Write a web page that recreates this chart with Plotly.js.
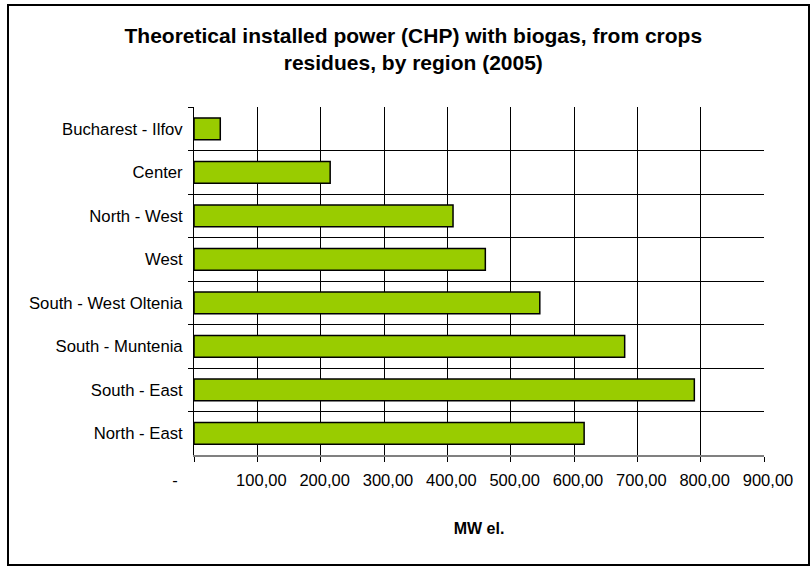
<!DOCTYPE html>
<html>
<head>
<meta charset="utf-8">
<script src="https://cdn.plot.ly/plotly-3.0.1.min.js"></script>
<style>
  html, body { margin: 0; padding: 0; background: #fff; }
  #wrap { position: relative; width: 812px; height: 567px; }
  #chart { position: absolute; left: 0; top: 0; width: 812px; height: 567px; }
  #frame { position: absolute; left: 7px; top: 4px; width: 799px; height: 558px;
           border: 2px solid #000; pointer-events: none; }
</style>
</head>
<body>
<div id="wrap">
  <div id="chart"></div>
  <div id="frame"></div>
</div>
<script>
// Regions, top to bottom as shown in the chart
const regions = [
  "Bucharest - Ilfov",
  "Center",
  "North - West",
  "West",
  "South - West Oltenia",
  "South - Muntenia",
  "South - East",
  "North - East"
];
// Installed power, MW el.
const power = [41.5, 215, 409, 460, 546, 680, 790, 616];

const xTickVals = [0, 100, 200, 300, 400, 500, 600, 700, 800, 900];
const xTickText = ["-\u00a0\u00a0\u00a0\u00a0\u00a0\u00a0\u00a0\u00a0\u00a0\u00a0",
  "100,00", "200,00", "300,00", "400,00", "500,00", "600,00", "700,00", "800,00", "900,00"];

const titleText = "Theoretical installed power (CHP) with biogas, from crops<br>residues, by region (2005)";
const xTitle = "MW el.";

const font = "'Liberation Sans', Arial, sans-serif";

const data = [{
  type: "bar",
  orientation: "h",
  y: regions,
  x: power,
  marker: { color: "#99CC00", line: { color: "#000000", width: 1.5 } },
  hoverinfo: "x+y"
}];

const layout = {
  width: 812, height: 567,
  margin: { l: 194, r: 48, t: 107, b: 112 },
  paper_bgcolor: "#ffffff",
  plot_bgcolor: "#ffffff",
  font: { family: font, size: 16, color: "#000" },
  showlegend: false,
  bargap: 0.5,
  title: {
    text: titleText,
    font: { family: font, size: 21, color: "#000", weight: "bold" },
    x: 0.509, xanchor: "center",
    y: 0.924, yanchor: "top", yref: "container"
  },
  xaxis: {
    range: [0, 900],
    tickvals: xTickVals,
    ticktext: xTickText,
    ticks: "outside", ticklen: 5, tickcolor: "#000", tickwidth: 1,
    ticklabelshift: 4,
    ticklabelstandoff: 4,
    showgrid: true, gridcolor: "#000", gridwidth: 1,
    zeroline: false,
    showline: true, linecolor: "#808080", linewidth: 2,
    tickfont: { family: font, size: 16.5, color: "#000" },
    title: { text: xTitle, font: { family: font, size: 16, color: "#000", weight: "bold" }, standoff: 35 },
    fixedrange: true
  },
  yaxis: {
    autorange: "reversed",
    type: "category",
    tickson: "boundaries",
    ticks: "outside", ticklen: 5, tickcolor: "#000", tickwidth: 1,
    ticklabelstandoff: 7,
    showgrid: true, gridcolor: "#000", gridwidth: 1,
    zeroline: false,
    showline: true, linecolor: "#000", linewidth: 1,
    tickfont: { family: font, size: 16.7, color: "#000" },
    fixedrange: true
  }
};

Plotly.newPlot("chart", data, layout, { displayModeBar: false, staticPlot: true });
</script>
</body>
</html>
